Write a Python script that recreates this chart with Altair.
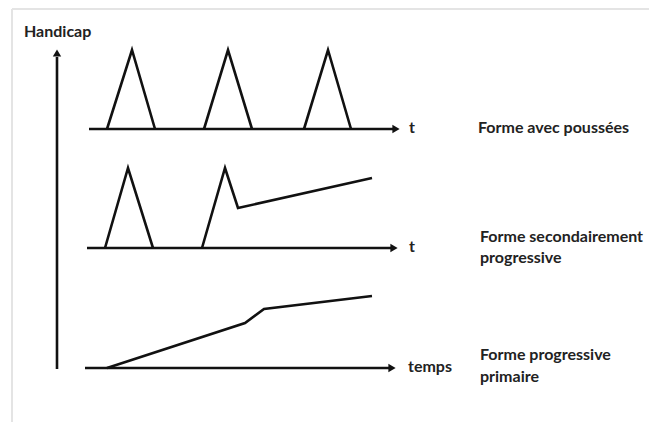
import altair as alt
import pandas as pd

# ---- data (x = time position, y = handicap position, pixels-like units) ----
# axes: start/end of each arrow shaft
axis_names = ["handicap", "row1", "row2", "row3"]
axis_x1 = [57, 89, 87, 85]
axis_y1 = [369, 129, 248, 368]
axis_x2 = [57, 393, 391, 389]
axis_y2 = [57, 129, 248, 368]
# arrow heads
head_x = [57, 396, 394, 392]
head_y = [53, 129, 248, 368]
head_shape = ["triangle-up", "triangle-right", "triangle-right", "triangle-right"]

# Forme avec poussées (three relapses)
r1_x = [107, 132, 155, 204, 228, 252, 304, 328, 351]
r1_y = [129, 50, 129, 129, 50, 129, 129, 50, 129]
r1_seg = [0, 0, 0, 1, 1, 1, 2, 2, 2]

# Forme secondairement progressive
r2_x = [105, 128, 153, 202, 225, 238, 372]
r2_y = [248, 168, 248, 248, 168, 208, 178]
r2_seg = [3, 3, 3, 4, 4, 4, 4]

# Forme progressive primaire
r3_x = [107, 245, 264, 372]
r3_y = [368, 323, 309, 296]
r3_seg = [5, 5, 5, 5]

# labels
lab_text = ["Handicap", "t", "t", "temps",
            "Forme avec poussées", "Forme secondairement", "progressive",
            "Forme progressive", "primaire"]
lab_x = [24, 409, 409, 408, 478, 480, 480, 480, 480]
lab_y = [32, 128, 247, 367, 128, 237, 258, 355, 377]

# frame of the picture
frame_x1 = [12, 12]
frame_y1 = [9, 9]
frame_x2 = [657, 12]
frame_y2 = [9, 430]

W, H = 641, 414
xs = alt.Scale(domain=[8, 8 + W])
ys = alt.Scale(domain=[8, 8 + H], reverse=True)
X = lambda f: alt.X(f, type="quantitative", scale=xs, axis=None)
Y = lambda f: alt.Y(f, type="quantitative", scale=ys, axis=None)

frame_df = pd.DataFrame({"x": frame_x1, "y": frame_y1, "x2": frame_x2, "y2": frame_y2})
axes_df = pd.DataFrame({"name": axis_names, "x": axis_x1, "y": axis_y1, "x2": axis_x2, "y2": axis_y2})
heads_df = pd.DataFrame({"x": head_x, "y": head_y, "shape": head_shape})

cx = r1_x + r2_x + r3_x
cy = r1_y + r2_y + r3_y
cs = r1_seg + r2_seg + r3_seg
curves_df = pd.DataFrame({"x": cx, "y": cy, "seg": cs, "order": list(range(len(cx)))})
labels_df = pd.DataFrame({"text": lab_text, "x": lab_x, "y": lab_y})

frame = alt.Chart(frame_df).mark_rule(color="#e4e4e4", strokeWidth=2).encode(
    x=X("x"), y=Y("y"), x2="x2", y2="y2")

axes = alt.Chart(axes_df).mark_rule(color="#111111", strokeWidth=2.6).encode(
    x=X("x"), y=Y("y"), x2="x2", y2="y2")

heads = alt.Chart(heads_df).mark_point(filled=True, color="#111111", size=70, opacity=1).encode(
    x=X("x"), y=Y("y"),
    shape=alt.Shape("shape:N", scale=None, legend=None))

curves = alt.Chart(curves_df).mark_line(color="#111111", strokeWidth=2.6, strokeJoin="miter").encode(
    x=X("x"), y=Y("y"), detail="seg:N", order="order:Q")

labels = alt.Chart(labels_df).mark_text(
    align="left", baseline="middle", font="Lato", fontWeight="bold", fontSize=16, color="#222222"
).encode(x=X("x"), y=Y("y"), text="text:N")

chart = alt.layer(frame, axes, curves, heads, labels).properties(
    width=W, height=H, padding=0, autosize=alt.AutoSizeParams(type="none")
).configure_view(stroke=None)

chart.save("out.html", embed_options={"renderer": "svg", "actions": False})
